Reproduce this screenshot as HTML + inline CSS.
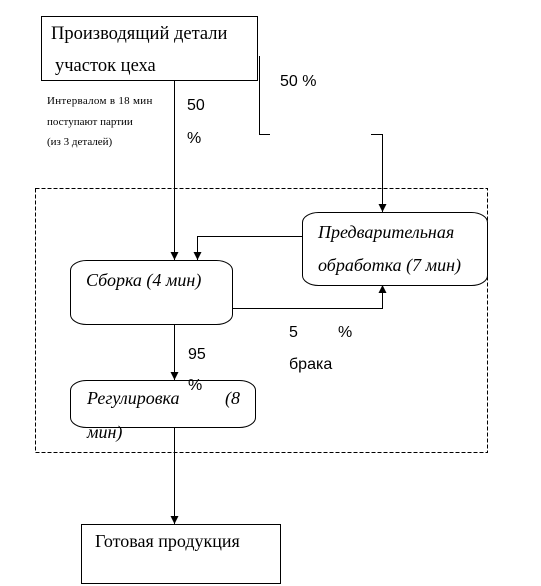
<!DOCTYPE html>
<html><head><meta charset="utf-8"><style>
html,body{margin:0;padding:0;background:#fff;width:541px;height:586px;overflow:hidden}
svg{display:block}
.s{font-family:"Liberation Serif",serif}
.a{font-family:"Liberation Sans",sans-serif}
</style></head><body>
<svg width="541" height="586" viewBox="0 0 541 586" xmlns="http://www.w3.org/2000/svg">
<defs><marker id="ar" viewBox="0 0 10 10" refX="10" refY="5" markerWidth="8" markerHeight="8" markerUnits="userSpaceOnUse" orient="auto"><path d="M0,0 L10,5 L0,10 z" fill="#000"/></marker></defs>
<g fill="none" stroke="#000" stroke-width="1">
<rect x="41.5" y="16.5" width="216" height="64"/>
<rect x="35.5" y="188.5" width="452" height="264" stroke-dasharray="4,2"/>
<rect x="70.5" y="260.5" width="162" height="64" rx="16" ry="10"/>
<rect x="302.5" y="212.5" width="185" height="73" rx="16" ry="10"/>
<rect x="70.5" y="380.5" width="185" height="47" rx="16" ry="10"/>
<rect x="81.5" y="524.5" width="199" height="59"/>
<path d="M174.5,80 V260" marker-end="url(#ar)"/>
<path d="M259.5,56 V134.5 H270"/>
<path d="M371,134.5 H382.5 V212" marker-end="url(#ar)"/>
<path d="M302,236.5 H197.5 V260" marker-end="url(#ar)"/>
<path d="M232,308.5 H382.5 V285" marker-end="url(#ar)"/>
<path d="M174.5,324 V380" marker-end="url(#ar)"/>
<path d="M174.5,428 V524" marker-end="url(#ar)"/>
</g>
<g fill="#000">
<text class="s" x="51" y="39" font-size="18.5">Производящий детали</text>
<text class="s" x="55" y="71" font-size="18.5">участок цеха</text>
<text class="a" x="280" y="86" font-size="16">50 %</text>
<text class="s" x="47" y="104" font-size="11" letter-spacing="0.3">Интервалом в 18 мин</text>
<text class="s" x="47" y="125" font-size="11">поступают партии</text>
<text class="s" x="47" y="145" font-size="11">(из 3 деталей)</text>
<text class="a" x="187" y="110" font-size="16">50</text>
<text class="a" x="187" y="143" font-size="16">%</text>
<text class="s" x="86" y="286" font-size="18" font-style="italic">Сборка (4 мин)</text>
<text class="s" x="318" y="238" font-size="18" font-style="italic">Предварительная</text>
<text class="s" x="318" y="271" font-size="18" font-style="italic">обработка (7 мин)</text>
<text class="a" x="289" y="337" font-size="16">5</text>
<text class="a" x="338" y="337" font-size="16">%</text>
<text class="a" x="289" y="369" font-size="16">брака</text>
<text class="a" x="188" y="359" font-size="16">95</text>
<text class="a" x="188" y="390" font-size="16">%</text>
<text class="s" x="87" y="404" font-size="18" font-style="italic">Регулировка</text>
<text class="s" x="225" y="404" font-size="18" font-style="italic">(8</text>
<text class="s" x="87" y="438" font-size="18" font-style="italic">мин)</text>
<text class="s" x="95" y="547" font-size="18">Готовая продукция</text>
</g>
</svg>
</body></html>
